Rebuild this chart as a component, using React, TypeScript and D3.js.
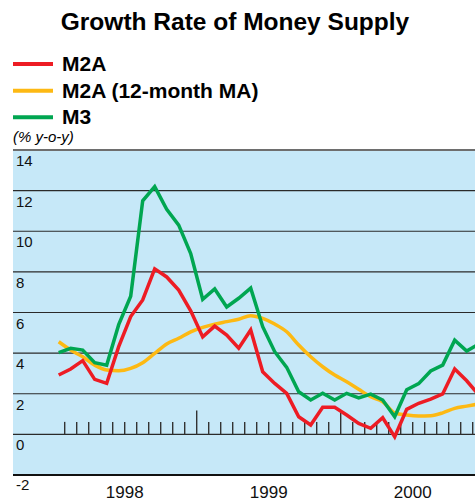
import React from "react";
import * as d3 from "d3";

// Monthly data, Jan 1998 onward (index 0 = Jan 1998)
const m2a = [2.92, 3.22, 3.63, 2.71, 2.51, 4.32, 5.8, 6.62, 8.15, 7.75, 7.1, 6.08,
  4.8, 5.33, 4.89, 4.24, 5.14, 3.08, 2.51, 2.02, 0.87, 0.46, 1.33, 1.33,
  0.95, 0.54, 0.3, 0.82, -0.12, 1.23, 1.53, 1.74, 1.99, 3.22, 2.64, 1.95];
const m2aMA = [4.56, 4.15, 3.82, 3.41, 3.17, 3.13, 3.25, 3.53, 3.99, 4.45, 4.73, 5.05,
  5.27, 5.43, 5.55, 5.67, 5.84, 5.71, 5.43, 5.05, 4.4, 3.82, 3.33, 2.92,
  2.59, 2.22, 1.85, 1.61, 1.06, 0.95, 0.9, 0.92, 1.06, 1.28, 1.39, 1.5];
const m3 = [4.02, 4.24, 4.15, 3.53, 3.41, 5.4, 6.8, 11.5, 12.2, 11.08, 10.3, 8.9,
  6.65, 7.16, 6.27, 6.7, 7.2, 5.3, 4.07, 3.3, 2.1, 1.69, 2.02, 1.69,
  2.02, 1.8, 1.98, 1.69, 0.87, 2.2, 2.5, 3.12, 3.41, 4.64, 4.1, 4.45];

const yTicks = [14, 12, 10, 8, 6, 4, 2, 0, -2];
const years = ["1998", "1999", "2000"];
const seriesNames = ["M2A", "M2A (12-month MA)", "M3"];
const seriesColors = ["#ed1c24", "#fdb913", "#00a651"];

const FONT = "'Liberation Sans', Arial, Helvetica, sans-serif";

export default function App() {
  const W = 475, H = 501;
  const left = 13, right = 475, top = 150, bottom = 475;
  const x = d3.scaleLinear().domain([0, 36]).range([52.7, 484.7]);
  const y = d3.scaleLinear().domain([-2, 14]).range([bottom, top]);

  const lin = d3.line<number>().x((_, i) => x(i + 0.5)).y((d) => y(d));
  const smooth = d3
    .line<number>()
    .x((_, i) => x(i + 0.5))
    .y((d) => y(d))
    .curve(d3.curveMonotoneX);

  const monthTicks = d3.range(1, 36);
  const legendY = [64, 90.7, 117.3];

  return (
    <svg
      width={W}
      height={H}
      style={{ position: "absolute", left: 0, top: 0, background: "#fff" }}
      fontFamily={FONT}
    >
      <defs>
        <clipPath id="plotclip">
          <rect x={left} y={top} width={right - left} height={bottom - top} />
        </clipPath>
      </defs>

      <text x={235} y={29.5} textAnchor="middle" fontSize={24.5} fontWeight="bold" fill="#000">
        Growth Rate of Money Supply
      </text>

      {seriesNames.map((n, i) => (
        <g key={n}>
          <line x1={13} x2={53} y1={legendY[i]} y2={legendY[i]} stroke={seriesColors[i]} strokeWidth={4} />
          <text x={62} y={legendY[i] + 7} fontSize={21} fontWeight="bold" fill="#000">
            {n}
          </text>
        </g>
      ))}

      <text x={13} y={142} fontSize={15} fontStyle="italic" fill="#000">
        (% y-o-y)
      </text>

      <rect x={left} y={top} width={right - left} height={bottom - top} fill="#c6e8f8" />

      {yTicks.slice(1, -1).map((t) => (
        <line key={t} x1={left} x2={right} y1={y(t)} y2={y(t)} stroke="#2a2a2a" strokeWidth={1.2} />
      ))}
      <line x1={left} x2={right} y1={top} y2={top} stroke="#6e6e6e" strokeWidth={2} />
      <line x1={left} x2={right} y1={bottom} y2={bottom} stroke="#111" strokeWidth={2} />

      {monthTicks.map((m) => (
        <line
          key={m}
          x1={x(m)}
          x2={x(m)}
          y1={y(0)}
          y2={y(0) - (m % 12 === 0 ? 24 : 12.5)}
          stroke="#333"
          strokeWidth={1.4}
        />
      ))}

      {yTicks.map((t) => (
        <text key={t} x={16} y={y(t) + (t === -2 ? 15 : 16)} fontSize={15} fill="#111">
          {t}
        </text>
      ))}

      {years.map((yr, i) => (
        <text key={yr} x={x(i * 12 + 6)} y={498} textAnchor="middle" fontSize={17} fill="#111">
          {yr}
        </text>
      ))}

      <g clipPath="url(#plotclip)" fill="none" strokeLinejoin="miter" strokeWidth={3.5}>
        <path d={smooth(m2aMA) || ""} stroke={seriesColors[1]} />
        <path d={lin(m2a) || ""} stroke={seriesColors[0]} />
        <path d={lin(m3) || ""} stroke={seriesColors[2]} />
      </g>
    </svg>
  );
}
